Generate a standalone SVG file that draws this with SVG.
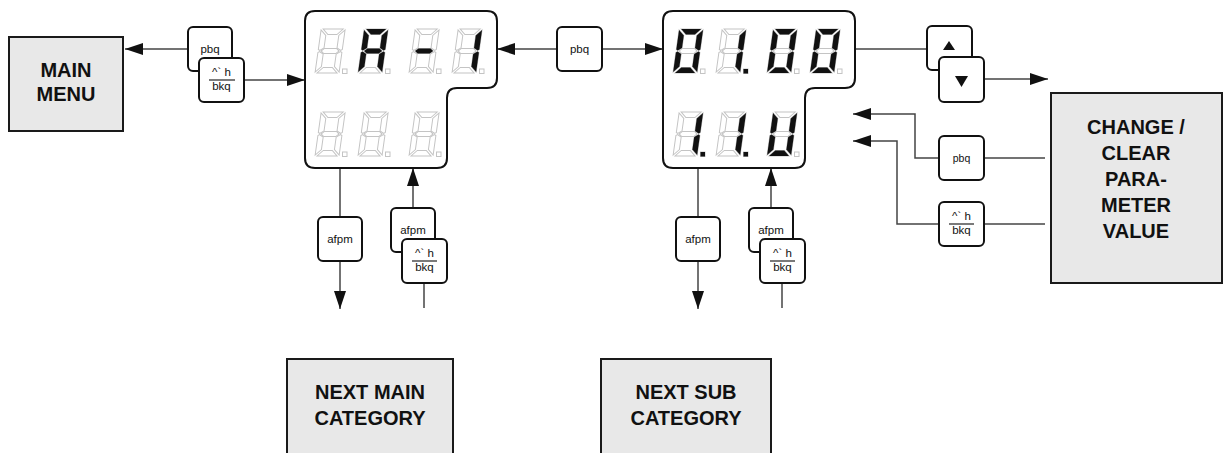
<svg xmlns="http://www.w3.org/2000/svg" xmlns:xlink="http://www.w3.org/1999/xlink" width="1226" height="453" viewBox="0 0 1226 453">
<style>
.box{fill:#e8e8e8;stroke:#1a1a1a;stroke-width:2}
.big{font-family:"Liberation Sans",Arial,sans-serif;font-weight:bold;font-size:20px;fill:#111;text-anchor:middle}
.btn{fill:#fff;stroke:#111;stroke-width:2}
.bt{font-family:"Liberation Sans",Arial,sans-serif;font-size:11.5px;fill:#111;text-anchor:middle}
.disp{fill:#fff;stroke:#111;stroke-width:2}
.off{fill:none;stroke:#c4c4c4;stroke-width:1}
.on{fill:#111;stroke:none}
.ln{fill:none;stroke:#444;stroke-width:1.5}
.frac{stroke:#222;stroke-width:1.2}
.tri{fill:#111}
</style>
<defs>
<marker id="ah" markerUnits="userSpaceOnUse" markerWidth="20" markerHeight="12" refX="18" refY="6" orient="auto">
<path d="M0,0 L18,6 L0,12 Z" fill="#111"/>
</marker>
<path id="outline" d="M305,21 Q305,11 315,11 L487,11 Q497,11 497,21 L497,78 Q497,88 487,88 L457,88 Q447,88 447,98 L447,158 Q447,168 437,168 L315,168 Q305,168 305,158 Z"/>
<path id="sa" d="M2,0 L22,0 L16.5,5.5 L7.5,5.5 Z"/>
<path id="sb" d="M24,1 L24,20.5 L22.5,21.5 L18.5,19 L18.5,6.5 Z"/>
<path id="sc" d="M24,23.5 L24,43 L18.5,37.5 L18.5,25 L22.5,22.5 Z"/>
<path id="sd" d="M2,44 L22,44 L16.5,38.5 L7.5,38.5 Z"/>
<path id="se" d="M0,23.5 L0,43 L5.5,37.5 L5.5,25 L1.5,22.5 Z"/>
<path id="sf" d="M0,1 L0,20.5 L1.5,21.5 L5.5,19 L5.5,6.5 Z"/>
<path id="sg" d="M3,22 L6,19.4 L18,19.4 L21,22 L18,24.6 L6,24.6 Z"/>
<g id="dig">
<g transform="translate(6.2,0) skewX(-8)" class="off">
<use xlink:href="#sa"/><use xlink:href="#sb"/><use xlink:href="#sc"/><use xlink:href="#sd"/><use xlink:href="#se"/><use xlink:href="#sf"/><use xlink:href="#sg"/>
</g>
<rect class="off" x="27.5" y="40" width="4.5" height="4.5"/>
</g>
</defs>
<rect width="1226" height="453" fill="#fff"/>

<g id="connectors">
<line class="ln" x1="188" y1="49" x2="125" y2="49" marker-end="url(#ah)"/>
<line class="ln" x1="244" y1="80" x2="305" y2="80" marker-end="url(#ah)"/>
<line class="ln" x1="557" y1="49" x2="497" y2="49" marker-end="url(#ah)"/>
<line class="ln" x1="602" y1="49" x2="663" y2="49" marker-end="url(#ah)"/>
<line class="ln" x1="855" y1="49" x2="927" y2="49"/>
<line class="ln" x1="984" y1="79" x2="1048" y2="79" marker-end="url(#ah)"/>
<line class="ln" x1="1045" y1="158" x2="984" y2="158"/>
<polyline class="ln" points="939,158 915,158 915,114 853,114" marker-end="url(#ah)"/>
<line class="ln" x1="1045" y1="224" x2="984" y2="224"/>
<polyline class="ln" points="939,224 897,224 897,141 853,141" marker-end="url(#ah)"/>
<line class="ln" x1="340" y1="168" x2="340" y2="217"/>
<line class="ln" x1="340" y1="261" x2="340" y2="309" marker-end="url(#ah)"/>
<line class="ln" x1="424" y1="308" x2="424" y2="283"/>
<line class="ln" x1="413" y1="208" x2="413" y2="168" marker-end="url(#ah)"/>
<line class="ln" x1="698" y1="168" x2="698" y2="217"/>
<line class="ln" x1="698" y1="261" x2="698" y2="309" marker-end="url(#ah)"/>
<line class="ln" x1="782" y1="308" x2="782" y2="283"/>
<line class="ln" x1="771" y1="208" x2="771" y2="168" marker-end="url(#ah)"/>
</g>

<g id="main-menu">
<rect class="box" x="9" y="37" width="114" height="94"/>
<text class="big" x="66" y="77">MAIN</text>
<text class="big" x="66" y="101">MENU</text>
</g>

<g id="next-main">
<rect class="box" x="287" y="359" width="166" height="110"/>
<text class="big" x="370" y="399">NEXT MAIN</text>
<text class="big" x="370" y="425">CATEGORY</text>
</g>

<g id="next-sub">
<rect class="box" x="601" y="359" width="170" height="110"/>
<text class="big" x="686" y="399">NEXT SUB</text>
<text class="big" x="686" y="425">CATEGORY</text>
</g>

<g id="change-clear">
<rect class="box" x="1051" y="93" width="171" height="190"/>
<text class="big" x="1136" y="134">CHANGE /</text>
<text class="big" x="1136" y="160">CLEAR</text>
<text class="big" x="1136" y="186">PARA-</text>
<text class="big" x="1136" y="212">METER</text>
<text class="big" x="1136" y="238">VALUE</text>
</g>

<g id="display-1">
<use xlink:href="#outline" class="disp"/>
<use xlink:href="#dig" x="315" y="29"/>
<use xlink:href="#dig" x="358" y="29"/>
<use xlink:href="#dig" x="409" y="29"/>
<use xlink:href="#dig" x="452" y="29"/>
<use xlink:href="#dig" x="315" y="112"/>
<use xlink:href="#dig" x="358" y="112"/>
<use xlink:href="#dig" x="409" y="112"/>
<g class="on" transform="translate(364.2,29) skewX(-8)"><use xlink:href="#sa"/><use xlink:href="#sb"/><use xlink:href="#sc"/><use xlink:href="#se"/><use xlink:href="#sf"/><use xlink:href="#sg"/></g>
<g class="on" transform="translate(415.2,29) skewX(-8)"><use xlink:href="#sg"/></g>
<g class="on" transform="translate(458.2,29) skewX(-8)"><use xlink:href="#sb"/><use xlink:href="#sc"/></g>
</g>

<g id="display-2">
<use xlink:href="#outline" class="disp" x="358"/>
<use xlink:href="#dig" x="673" y="29"/>
<use xlink:href="#dig" x="716" y="29"/>
<use xlink:href="#dig" x="767" y="29"/>
<use xlink:href="#dig" x="810" y="29"/>
<use xlink:href="#dig" x="673" y="112"/>
<use xlink:href="#dig" x="716" y="112"/>
<use xlink:href="#dig" x="767" y="112"/>
<g class="on" transform="translate(679.2,29) skewX(-8)"><use xlink:href="#sa"/><use xlink:href="#sb"/><use xlink:href="#sc"/><use xlink:href="#sd"/><use xlink:href="#se"/><use xlink:href="#sf"/></g>
<g class="on" transform="translate(722.2,29) skewX(-8)"><use xlink:href="#sb"/><use xlink:href="#sc"/></g>
<rect class="on" x="743.5" y="69" width="4.5" height="4.5"/>
<g class="on" transform="translate(773.2,29) skewX(-8)"><use xlink:href="#sa"/><use xlink:href="#sb"/><use xlink:href="#sc"/><use xlink:href="#sd"/><use xlink:href="#se"/><use xlink:href="#sf"/></g>
<g class="on" transform="translate(816.2,29) skewX(-8)"><use xlink:href="#sa"/><use xlink:href="#sb"/><use xlink:href="#sc"/><use xlink:href="#sd"/><use xlink:href="#se"/><use xlink:href="#sf"/></g>
<g class="on" transform="translate(679.2,112) skewX(-8)"><use xlink:href="#sb"/><use xlink:href="#sc"/></g>
<rect class="on" x="700.5" y="152" width="4.5" height="4.5"/>
<g class="on" transform="translate(722.2,112) skewX(-8)"><use xlink:href="#sb"/><use xlink:href="#sc"/></g>
<rect class="on" x="743.5" y="152" width="4.5" height="4.5"/>
<g class="on" transform="translate(773.2,112) skewX(-8)"><use xlink:href="#sb"/><use xlink:href="#sc"/><use xlink:href="#sd"/><use xlink:href="#se"/><use xlink:href="#sf"/></g>
</g>

<g id="btn-left-pbq">
<rect class="btn" x="188" y="27" width="44" height="44" rx="5"/>
<text class="bt" x="210" y="53">pbq</text>
</g>
<g id="btn-left-back">
<rect class="btn" x="199" y="58" width="45" height="44" rx="5"/>
<text class="bt" x="221.5" y="76">^` h</text>
<line class="frac" x1="209" y1="80" x2="235" y2="80"/>
<text class="bt" x="221.5" y="90">bkq</text>
</g>

<g id="btn-mid-pbq">
<rect class="btn" x="557" y="27" width="45" height="44" rx="5"/>
<text class="bt" x="579.5" y="53">pbq</text>
</g>

<g id="btn-up">
<rect class="btn" x="927" y="26" width="45" height="44" rx="5"/>
<path class="tri" d="M943,50 L949,41 L955,50 Z"/>
</g>
<g id="btn-down">
<rect class="btn" x="939" y="57" width="45" height="45" rx="5"/>
<path class="tri" d="M955,76 L968,76 L961.5,87 Z"/>
</g>

<g id="btn-right-pbq">
<rect class="btn" x="939" y="136" width="45" height="44" rx="5"/>
<text class="bt" x="961.5" y="162" style="font-size:10.5px">pbq</text>
</g>
<g id="btn-right-back">
<rect class="btn" x="939" y="202" width="45" height="44" rx="5"/>
<text class="bt" x="961.5" y="220">^` h</text>
<line class="frac" x1="949" y1="224" x2="974" y2="224"/>
<text class="bt" x="961.5" y="234">bkq</text>
</g>

<g id="btn-d1-afpm-down">
<rect class="btn" x="318" y="217" width="44" height="44" rx="5"/>
<text class="bt" x="340" y="243">afpm</text>
</g>
<g id="btn-d1-afpm-up">
<rect class="btn" x="391" y="208" width="44" height="44" rx="5"/>
<text class="bt" x="413" y="234">afpm</text>
</g>
<g id="btn-d1-back">
<rect class="btn" x="402" y="239" width="45" height="44" rx="5"/>
<text class="bt" x="424.5" y="257">^` h</text>
<line class="frac" x1="412" y1="261" x2="437" y2="261"/>
<text class="bt" x="424.5" y="271">bkq</text>
</g>

<g id="btn-d2-afpm-down">
<rect class="btn" x="676" y="217" width="44" height="44" rx="5"/>
<text class="bt" x="698" y="243">afpm</text>
</g>
<g id="btn-d2-afpm-up">
<rect class="btn" x="749" y="208" width="44" height="44" rx="5"/>
<text class="bt" x="771" y="234">afpm</text>
</g>
<g id="btn-d2-back">
<rect class="btn" x="760" y="239" width="45" height="44" rx="5"/>
<text class="bt" x="782.5" y="257">^` h</text>
<line class="frac" x1="770" y1="261" x2="795" y2="261"/>
<text class="bt" x="782.5" y="271">bkq</text>
</g>
</svg>
